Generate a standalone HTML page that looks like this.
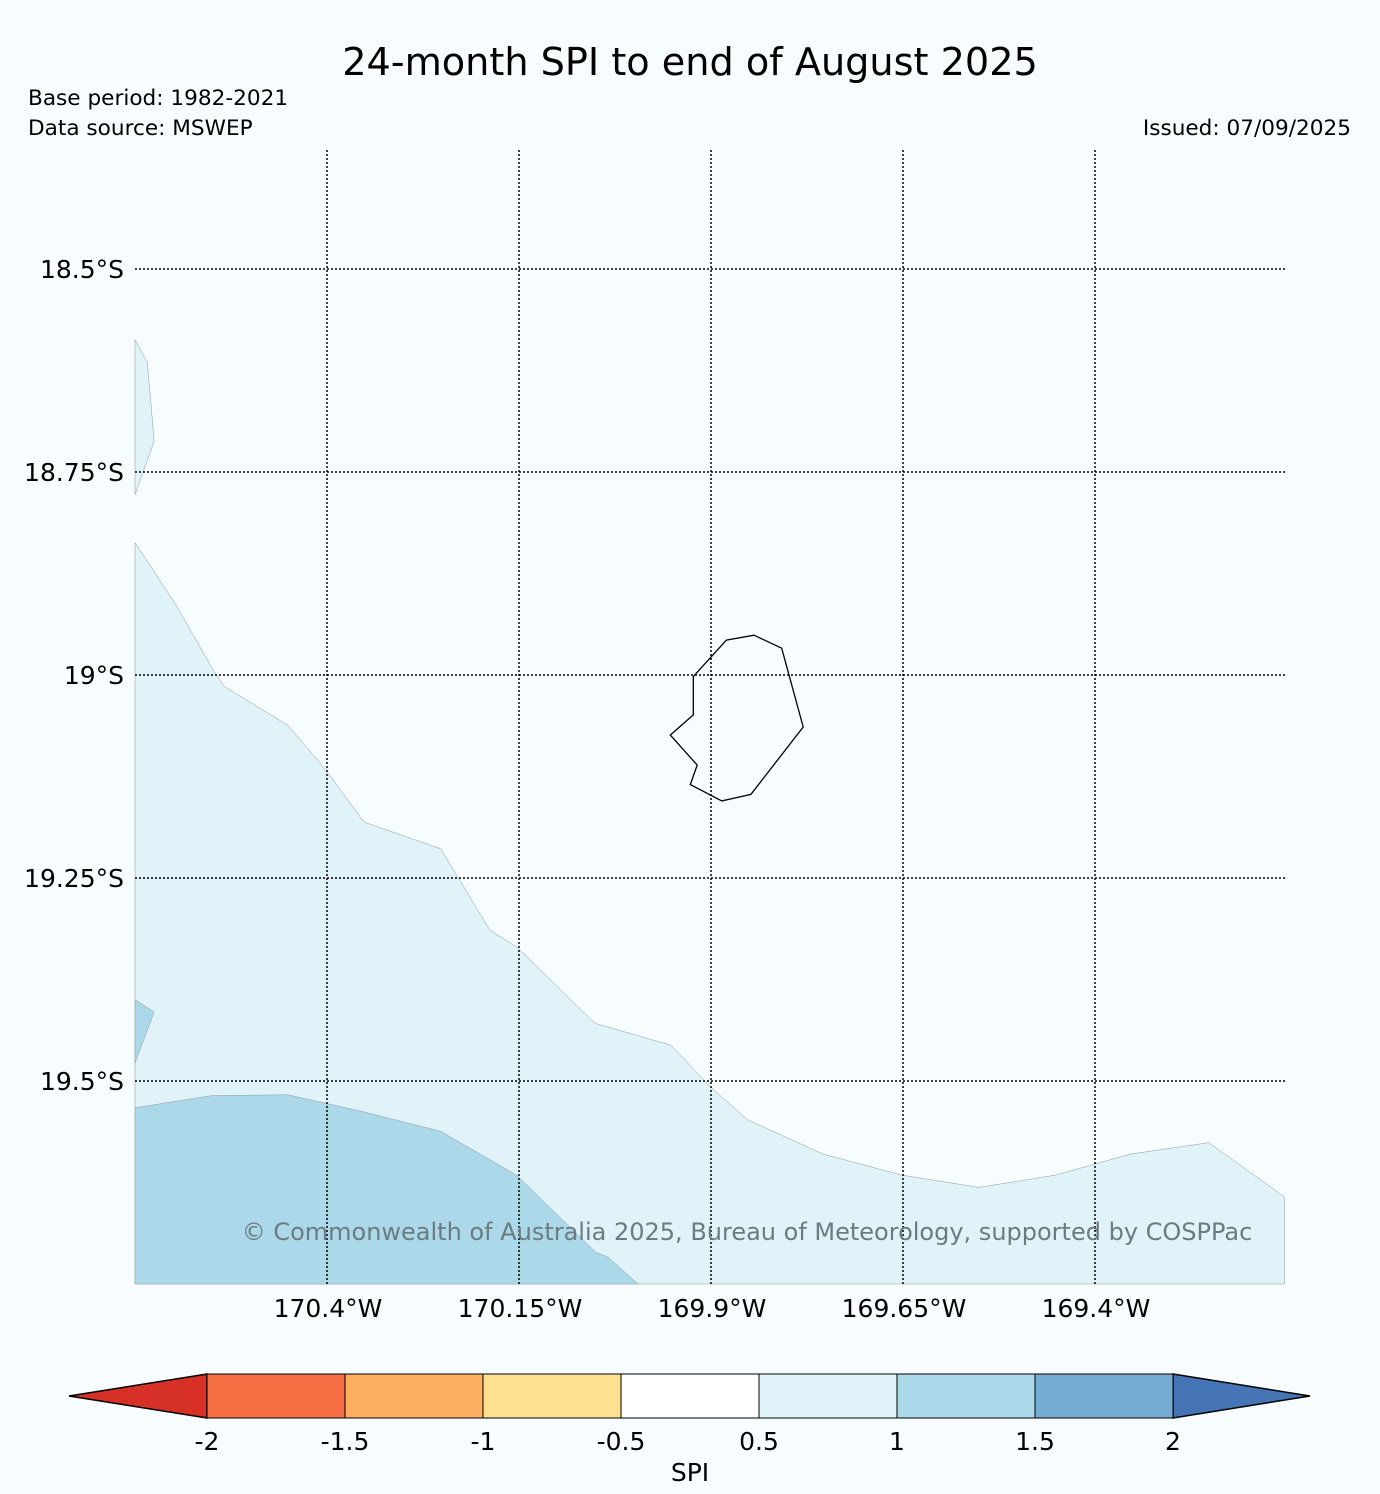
<!DOCTYPE html>
<html><head><meta charset="utf-8"><style>
body{margin:0;background:#f7fcfe;}
svg{display:block;font-family:"DejaVu Sans","Liberation Sans",sans-serif;}
</style></head><body>
<svg id="c" width="1380" height="1494" viewBox="0 0 1380 1494">
<rect width="1380" height="1494" fill="#f7fcfe"/>
<text x="690" y="75" text-anchor="middle" font-size="38.2">24-month SPI to end of August 2025</text>
<text x="28" y="105" font-size="21.6">Base period: 1982-2021</text>
<text x="28" y="135" font-size="21.6">Data source: MSWEP</text>
<text x="1351" y="135" font-size="21.6" text-anchor="end">Issued: 07/09/2025</text>
<g id="map"></g>
<g id="grid"></g>
<text x="747" y="1240" text-anchor="middle" font-size="24" fill="#6b7b80">© Commonwealth of Australia 2025, Bureau of Meteorology, supported by COSPPac</text>
<g id="cbar"></g>
<text x="690" y="1481" text-anchor="middle" font-size="25">SPI</text>
</svg>
<script>
const lonTicks=[-170.4,-170.15,-169.9,-169.65,-169.4];
const lonLabels=["170.4°W","170.15°W","169.9°W","169.65°W","169.4°W"];
const latTicks=[-18.5,-18.75,-19,-19.25,-19.5];
const latLabels=["18.5°S","18.75°S","19°S","19.25°S","19.5°S"];
const lightLon=[-170.65,-170.597,-170.55,-170.534,-170.451,-170.403,-170.352,-170.252,-170.188,-170.153,-170.051,-169.952,-169.901,-169.852,-169.754,-169.651,-169.551,-169.452,-169.354,-169.252,-169.153,-169.153,-170.65];
const lightLat=[-18.837,-18.913,-18.991,-19.014,-19.062,-19.115,-19.181,-19.214,-19.314,-19.335,-19.429,-19.456,-19.507,-19.548,-19.590,-19.616,-19.631,-19.616,-19.590,-19.576,-19.643,-19.75,-19.75];
const medLon=[-170.65,-170.55,-170.451,-170.352,-170.252,-170.153,-170.05,-170.034,-169.995,-170.65];
const medLat=[-19.533,-19.518,-19.517,-19.538,-19.562,-19.616,-19.711,-19.717,-19.75,-19.75];
const topLon=[-170.65,-170.634,-170.625,-170.65];
const topLat=[-18.587,-18.615,-18.712,-18.778];
const smallLon=[-170.65,-170.625,-170.65];
const smallLat=[-19.400,-19.415,-19.478];
const isleLon=[-169.923,-169.880,-169.844,-169.808,-169.780,-169.848,-169.886,-169.927,-169.918,-169.953,-169.923];
const isleLat=[-19.002,-18.957,-18.951,-18.967,-19.064,-19.147,-19.155,-19.135,-19.111,-19.074,-19.049];
const cbBounds=[-2,-1.5,-1,-0.5,0.5,1,1.5,2];
const cbColors=["#f46d43","#fdae61","#fee090","#ffffff","#e0f3f8","#abd9e9","#74add1"];
const NS="http://www.w3.org/2000/svg";
const X0=135,X1=1285,Y0=150,Y1=1284;
const xs=lon=>327+(lon+170.4)*768;
const ys=lat=>269+(-18.5-lat)*812;
function mk(t,p,a){const e=document.createElementNS(NS,t);for(const k in a)e.setAttribute(k,a[k]);p.appendChild(e);return e;}
const map=document.getElementById('map');
const bg=mk('rect',map,{x:X0,y:Y0,width:X1-X0,height:Y1-Y0,fill:'#f7fcfe'});


function poly(lo,la,fill,stroke,sw,name){
 const pts=lo.map((v,i)=>xs(v).toFixed(1)+','+ys(la[i]).toFixed(1)).join(' ');
 const e=mk('polygon',map,{points:pts,fill:fill,stroke:stroke,'stroke-width':sw});
 
 
}
poly(lightLon,lightLat,'#e0f3f8','#8a9aa0',0.5,'contour-spi-0.5-1');
poly(medLon,medLat,'#abd9e9','#8a9aa0',0.5,'contour-spi-1-1.5');
poly(topLon,topLat,'#e0f3f8','#8a9aa0',0.5,'contour-spi-0.5-1-north');
poly(smallLon,smallLat,'#abd9e9','#8a9aa0',0.5,'contour-spi-1-1.5-west');
poly(isleLon,isleLat,'none','#000',1.3,'island-coastline');
const g=document.getElementById('grid');
lonTicks.forEach((v,i)=>{const x=xs(v);
 const l=mk('line',g,{x1:x,x2:x,y1:Y0,y2:Y1,stroke:'#000','stroke-width':1.5,'stroke-dasharray':'2,2'});
 
 
 const t=mk('text',g,{x:x+1,y:1317,'text-anchor':'middle','font-size':25});t.textContent=lonLabels[i];
 
 });
latTicks.forEach((v,i)=>{const y=ys(v);
 const l=mk('line',g,{x1:X0,x2:X1,y1:y,y2:y,stroke:'#000','stroke-width':1.5,'stroke-dasharray':'2,2'});
 
 
 const t=mk('text',g,{x:124,y:y+9,'text-anchor':'end','font-size':25});t.textContent=latLabels[i];
 
 });
const cb=document.getElementById('cbar');
const cx=v=>{const i=cbBounds.indexOf(v);return 207+i*138;};
const CY0=1374,CY1=1418,CM=1396;
const t1=mk('polygon',cb,{points:`69,${CM} ${cx(-2)},${CY0} ${cx(-2)},${CY1}`,fill:'#d73027',stroke:'#000','stroke-width':1.5});


const t2=mk('polygon',cb,{points:`1310,${CM} ${cx(2)},${CY0} ${cx(2)},${CY1}`,fill:'#4575b4',stroke:'#000','stroke-width':1.5});


cbColors.forEach((c,i)=>{const a=cx(cbBounds[i]),b=cx(cbBounds[i+1]);
 const r=mk('rect',cb,{x:a,y:CY0,width:b-a,height:CY1-CY0,fill:c,stroke:'#000','stroke-width':1});
 
 });
cbBounds.forEach(v=>{const t=mk('text',cb,{x:cx(v),y:1450,'text-anchor':'middle','font-size':25});t.textContent=String(v);
 
 });
</script>
</body></html>
